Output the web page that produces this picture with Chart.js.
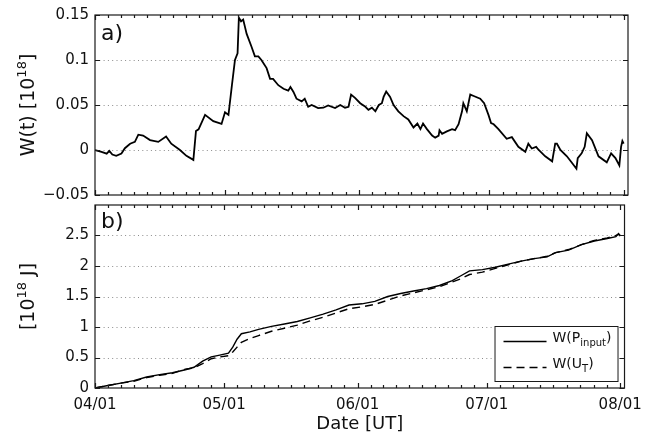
<!DOCTYPE html>
<html>
<head>
<meta charset="utf-8">
<script src="https://cdn.jsdelivr.net/npm/chart.js@4.4.1/dist/chart.umd.min.js"></script>
<style>
  html, body { margin: 0; padding: 0; background: #fff; }
  #wrap { position: relative; width: 650px; height: 446px; overflow: hidden; background: #fff; }
  #wrap canvas { position: absolute; left: 0; }
  #topPanel { top: 0; }
  #bottomPanel { top: 190px; }
</style>
</head>
<body>
<div id="wrap">
  <canvas id="topPanel" width="650" height="210"></canvas>
  <canvas id="bottomPanel" width="650" height="256"></canvas>
</div>
<script>
// ---- time axis (days since 04/01 UT) ----
const dateTickDays   = [0, 30, 61, 91, 122];
const dateTickLabels = ['04/01', '05/01', '06/01', '07/01', '08/01'];
const dayMax = 123;

// ---- panel a) ticks ----
const wTickValues = [-0.05, 0, 0.05, 0.1, 0.15];
const wTickLabels = ['\u22120.05', '0', '0.05', '0.1', '0.15'];

// ---- panel b) ticks ----
const eTickValues = [0, 0.5, 1, 1.5, 2, 2.5];
const eTickLabels = ['0', '0.5', '1', '1.5', '2', '2.5'];
const eMax = 3;

// ---- panel a) W(t) [10^18] ----
const wDays = [0, 1.5, 2.7, 3.3, 4.0, 4.9, 6.1, 6.9, 8.1, 9.2, 10, 11.1, 12.7, 14.6, 16.4, 17.6, 19.6, 21.1, 22.7, 23.3,
  23.9, 25.4, 27.3, 29.2, 30, 30.8, 31.6, 32.3, 32.9, 33.2, 33.7, 34.2, 35, 36.1, 36.9, 37.7, 38.4, 39.6, 40.4, 41.1,
  42.3, 43.5, 44.6, 45.1, 45.8, 46.5, 47.7, 48.4, 49.2, 50, 51.5, 52.7, 53.8, 55.4, 56.6, 57.7, 58.5, 59.1, 60, 61.2,
  62.4, 63.1, 63.9, 64.7, 65.5, 66.2, 66.6, 67.2, 68.1, 68.9, 70, 71.2, 72.3, 73.5, 74.4, 75.1, 75.7, 76.6, 77.8, 78.5,
  79.3, 79.5, 80.1, 81.2, 82.4, 83.1, 83.9, 84.7, 85, 85.8, 86.6, 87.4, 88.9, 89.8, 90.8, 91.4, 92, 93.1, 95, 96.2,
  97.7, 99.3, 100, 100.8, 101.8, 102.4, 103.9, 105.5, 106.2, 106.6, 107.4, 108.9, 110.1, 111.1, 111.4, 112.3, 113, 113.5, 114.7, 116.2,
  118.1, 119.1, 120.1, 121, 121.4, 121.7, 122];
const wValues = [0, -0.002, -0.004, -0.001, -0.005, -0.0065, -0.004, 0.002, 0.007, 0.009, 0.017, 0.016, 0.011, 0.009, 0.015, 0.007, 0.0, -0.0065, -0.011, 0.021,
  0.023, 0.039, 0.032, 0.029, 0.042, 0.039, 0.072, 0.100, 0.1075, 0.147, 0.143, 0.145, 0.129, 0.115, 0.104, 0.104, 0.100, 0.091, 0.079, 0.079,
  0.072, 0.068, 0.066, 0.070, 0.0645, 0.057, 0.054, 0.057, 0.048, 0.050, 0.0466, 0.047, 0.0495, 0.0466, 0.050, 0.047, 0.048, 0.0616, 0.058, 0.052,
  0.048, 0.0447, 0.047, 0.043, 0.050, 0.052, 0.059, 0.065, 0.059, 0.050, 0.043, 0.0376, 0.034, 0.025, 0.0294, 0.0232, 0.0294, 0.0232, 0.016, 0.0136,
  0.016, 0.022, 0.018, 0.0207, 0.0232, 0.022, 0.0286, 0.043, 0.052, 0.043, 0.0616, 0.060, 0.057, 0.052, 0.039, 0.030, 0.0286, 0.0232, 0.0125, 0.0143,
  0.0035, -0.002, 0.007, 0.0017, 0.0035, 0.0, -0.007, -0.0126, 0.007, 0.007, 0.0, -0.007, -0.0144, -0.0208, -0.009, -0.0037, 0.0035, 0.0186, 0.0108, -0.007,
  -0.0137, -0.0037, -0.009, -0.0172, 0.0035, 0.010, 0.007];

// ---- panel b) cumulative energy [10^18 J] ----
const cumDays  = [0, 3, 6, 9, 12, 15, 18, 21, 23, 25, 27, 29, 31, 32, 33, 34, 36, 38, 41, 44, 47, 50, 53, 56, 59,
  62, 65, 68, 71, 74, 77, 80, 83, 85, 87, 90, 93, 96, 99, 102, 105, 107, 110, 113, 116, 119, 121, 121.6, 122];
const cumInput = [0, 0.04, 0.08, 0.12, 0.18, 0.22, 0.25, 0.30, 0.34, 0.44, 0.51, 0.54, 0.57, 0.67, 0.80, 0.89, 0.92, 0.96, 1.01, 1.05, 1.09, 1.15, 1.21, 1.28, 1.36,
  1.38, 1.42, 1.50, 1.55, 1.59, 1.63, 1.68, 1.76, 1.84, 1.92, 1.94, 1.98, 2.03, 2.08, 2.12, 2.15, 2.22, 2.26, 2.35, 2.41, 2.45, 2.48, 2.53, 2.50];
const cumUT    = [0, 0.04, 0.08, 0.11, 0.17, 0.21, 0.24, 0.31, 0.33, 0.40, 0.48, 0.51, 0.53, 0.59, 0.67, 0.75, 0.81, 0.86, 0.93, 0.98, 1.03, 1.10, 1.16, 1.23, 1.30,
  1.33, 1.37, 1.44, 1.51, 1.56, 1.61, 1.66, 1.74, 1.79, 1.86, 1.90, 1.96, 2.02, 2.08, 2.12, 2.16, 2.22, 2.27, 2.35, 2.42, 2.46, 2.50, 2.52, 2.49];

const seriesLabels = ['W(P_input)', 'W(U_T)'];

const FONT = '"DejaVu Sans", "Liberation Sans", Arial, sans-serif';
const INK = '#111';

const zip = (xs, ys) => xs.map((x, i) => ({ x, y: ys[i] }));

// text with optional superscript / subscript runs: [[text, 'n'|'sup'|'sub'], ...]
function runSize(kind, size) { return kind === 'n' ? size : Math.round(size * 0.7); }
function richWidth(ctx, parts, size) {
  let w = 0;
  for (const [t, k] of parts) { ctx.font = `${runSize(k, size)}px ${FONT}`; w += ctx.measureText(t).width; }
  return w;
}
function drawRich(ctx, parts, x, y, size, align) {
  let cx = align === 'center' ? x - richWidth(ctx, parts, size) / 2 : x;
  ctx.textAlign = 'left';
  ctx.textBaseline = 'alphabetic';
  for (const [t, k] of parts) {
    ctx.font = `${runSize(k, size)}px ${FONT}`;
    const dy = k === 'sup' ? -size * 0.42 : k === 'sub' ? size * 0.3 : 0;
    ctx.fillText(t, cx, y + dy);
    cx += ctx.measureText(t).width;
  }
}
function labelParts(label) {
  const m = label.match(/^(.*?)_(\w+)(.*)$/);
  return m ? [[m[1], 'n'], [m[2], 'sub'], [m[3], 'n']] : [[label, 'n']];
}

// box frame, inward ticks, dotted grid, panel letter, y title and legend
const panelDecor = {
  id: 'panelDecor',
  beforeDatasetsDraw(chart) {
    const { ctx, chartArea: a, scales: { y } } = chart;
    ctx.save();
    ctx.strokeStyle = '#8c8c8c';
    ctx.lineWidth = 1;
    ctx.setLineDash([1, 3.3]);
    for (const t of y.ticks) {
      const py = Math.round(y.getPixelForValue(t.value)) + 0.5;
      if (py <= a.top + 2 || py >= a.bottom - 2) continue;
      ctx.beginPath();
      ctx.moveTo(a.left, py);
      ctx.lineTo(a.right, py);
      ctx.stroke();
    }
    ctx.restore();
  },
  afterDatasetsDraw(chart, args, opts) {
    const { ctx, chartArea: a, scales: { x, y } } = chart;
    ctx.save();
    ctx.strokeStyle = '#1a1a1a';
    ctx.lineWidth = 1.2;
    ctx.strokeRect(a.left, a.top, a.width, a.height);

    const major = 5, minor = 3;
    ctx.beginPath();
    const vtick = (px, len) => {
      ctx.moveTo(px, a.bottom); ctx.lineTo(px, a.bottom - len);
      ctx.moveTo(px, a.top); ctx.lineTo(px, a.top + len);
    };
    dateTickDays.forEach((d0, i) => {
      vtick(Math.round(x.getPixelForValue(d0)) + 0.5, major);
      const d1 = dateTickDays[i + 1];
      if (d1 === undefined) return;
      for (let k = 1; k < 10; k++) {
        vtick(Math.round(x.getPixelForValue(d0 + (d1 - d0) * k / 10)) + 0.5, minor);
      }
    });
    for (const t of y.ticks) {
      const py = Math.round(y.getPixelForValue(t.value)) + 0.5;
      ctx.moveTo(a.left, py); ctx.lineTo(a.left + major, py);
      ctx.moveTo(a.right, py); ctx.lineTo(a.right - major, py);
    }
    ctx.stroke();

    // panel letter
    ctx.fillStyle = INK;
    ctx.font = `22px ${FONT}`;
    ctx.textAlign = 'left';
    ctx.textBaseline = 'alphabetic';
    ctx.fillText(opts.letter, a.left + 6, a.top + opts.letterBaseline);

    // y-axis title, reading upward
    ctx.save();
    ctx.translate(34, (a.top + a.bottom) / 2);
    ctx.rotate(-Math.PI / 2);
    drawRich(ctx, opts.yTitle, 0, 0, 19, 'center');
    ctx.restore();

    // legend box
    if (opts.legend) {
      const bw = 123, bh = 55;
      const bx = a.right - 7 - bw, by = a.bottom - 7 - bh;
      ctx.fillStyle = '#fff';
      ctx.fillRect(bx, by, bw, bh);
      ctx.strokeStyle = '#1a1a1a';
      ctx.lineWidth = 1;
      ctx.strokeRect(bx + 0.5, by + 0.5, bw, bh);
      chart.data.datasets.forEach((ds, i) => {
        const ly = by + 15 + i * 26;
        ctx.strokeStyle = ds.borderColor;
        ctx.lineWidth = 1.4;
        ctx.setLineDash(ds.borderDash || []);
        ctx.beginPath();
        ctx.moveTo(bx + 9, ly + 0.5);
        ctx.lineTo(bx + 52, ly + 0.5);
        ctx.stroke();
        ctx.setLineDash([]);
        ctx.fillStyle = INK;
        drawRich(ctx, labelParts(ds.label), bx + 58, ly + 1, 14, 'left');
      });
    }
    ctx.restore();
  }
};

Chart.defaults.font.family = FONT;
Chart.defaults.color = INK;

const fixedTicks = (values) => (scale) => { scale.ticks = values.map(v => ({ value: v })); };

// ---- panel a) ----
new Chart(document.getElementById('topPanel'), {
  type: 'line',
  data: {
    datasets: [{
      label: 'W(t)',
      data: zip(wDays, wValues),
      borderColor: '#000',
      borderWidth: 1.8,
      pointRadius: 0,
      tension: 0,
      fill: false
    }]
  },
  options: {
    responsive: false,
    animation: false,
    layout: { padding: { left: 0, right: 22, top: 14, bottom: 10 } },
    scales: {
      x: { type: 'linear', min: 0, max: dayMax, display: false },
      y: {
        type: 'linear', min: wTickValues[0], max: wTickValues[wTickValues.length - 1],
        afterBuildTicks: fixedTicks(wTickValues),
        afterFit: (s) => { s.width = 95; },
        grid: { display: false, drawTicks: false },
        border: { display: false },
        ticks: { font: { size: 15 }, color: INK, padding: 6, callback: (v, i) => wTickLabels[i] }
      }
    },
    plugins: {
      legend: { display: false },
      tooltip: { enabled: false },
      panelDecor: { letter: 'a)', letterBaseline: 25, yTitle: [['W(t) [10', 'n'], ['18', 'sup'], [']', 'n']] }
    }
  },
  plugins: [panelDecor]
});

// ---- panel b) ----
new Chart(document.getElementById('bottomPanel'), {
  type: 'line',
  data: {
    datasets: [{
      label: seriesLabels[0],
      data: zip(cumDays, cumInput),
      borderColor: '#000',
      borderWidth: 1.4,
      pointRadius: 0,
      tension: 0,
      fill: false
    }, {
      label: seriesLabels[1],
      data: zip(cumDays, cumUT),
      borderColor: '#000',
      borderWidth: 1.4,
      borderDash: [8, 5],
      pointRadius: 0,
      tension: 0,
      fill: false
    }]
  },
  options: {
    responsive: false,
    animation: false,
    layout: { padding: { left: 0, right: 22, top: 10, bottom: 0 } },
    scales: {
      x: {
        type: 'linear', min: 0, max: dayMax,
        afterBuildTicks: fixedTicks(dateTickDays),
        afterFit: (s) => { s.height = 58; },
        grid: { display: false, drawTicks: false },
        border: { display: false },
        ticks: { font: { size: 15 }, color: INK, padding: 8, autoSkip: false, maxRotation: 0,
                 callback: (v, i) => dateTickLabels[i] },
        title: { display: true, text: 'Date [UT]', font: { size: 18 }, color: INK, padding: { top: 0, bottom: 11 } }
      },
      y: {
        type: 'linear', min: 0, max: eMax,
        afterBuildTicks: fixedTicks(eTickValues),
        afterFit: (s) => { s.width = 95; },
        grid: { display: false, drawTicks: false },
        border: { display: false },
        ticks: { font: { size: 15 }, color: INK, padding: 6, callback: (v, i) => eTickLabels[i] }
      }
    },
    plugins: {
      legend: { display: false },
      tooltip: { enabled: false },
      panelDecor: { letter: 'b)', letterBaseline: 23, yTitle: [['[10', 'n'], ['18', 'sup'], [' J]', 'n']], legend: true }
    }
  },
  plugins: [panelDecor]
});
</script>
</body>
</html>
